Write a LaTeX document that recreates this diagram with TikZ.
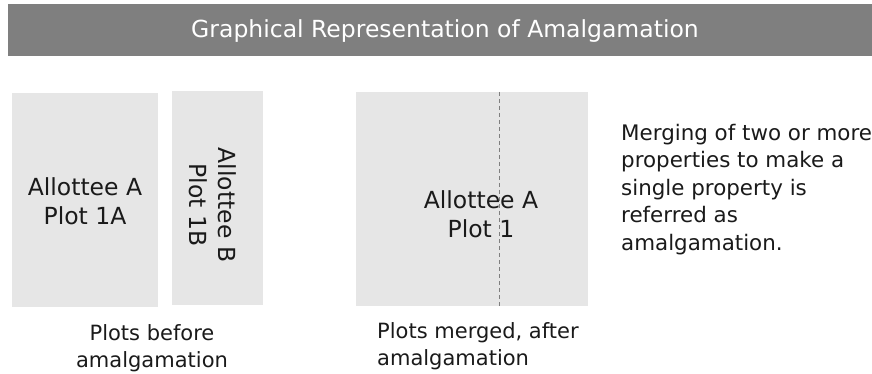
\documentclass[tikz,border=0pt]{standalone}
\usepackage{fontspec}
\setmainfont{DejaVu Sans}
\usetikzlibrary{positioning}
\definecolor{bargray}{HTML}{7F7F7F}
\definecolor{plotgray}{HTML}{E6E6E6}
\definecolor{inkgray}{HTML}{1A1A1A}

\begin{document}
\begin{tikzpicture}[x=1pt,y=-1pt,
    plotbox/.style={fill=plotgray,draw=none},
    plotlabel/.style={font=\fontsize{23.5}{29}\selectfont,align=center,text=inkgray,inner sep=0pt},
    caption/.style={font=\fontsize{21}{27}\selectfont,text=inkgray,inner sep=0pt},
    seam/.style={draw=bargray,dashed,dash pattern=on 4pt off 3pt,line width=0.8pt}]
  \useasboundingbox (0,0) rectangle (872,374);
  % title bar
  \fill[bargray] (8,4) rectangle (872,56);
  \node[font=\fontsize{23.5}{26}\selectfont,text=white,anchor=base,inner sep=0pt] (title) at (445,38)
    {Graphical Representation of Amalgamation};
  % plots before
  \fill[plotbox] (12,93) rectangle (158,307);
  \fill[plotbox] (172,91) rectangle (263,305);
  \node[plotlabel] (plotA) at (85,201) {Allottee A\\Plot 1A};
  \node[plotlabel,rotate=-90] (plotB) at (213,205) {Allottee B\\Plot 1B};
  \node[caption,align=center,anchor=base] (before) at (152,367) {Plots before\\amalgamation};
  % plots after
  \fill[plotbox] (356,92) rectangle (588,306);
  \coordinate (seamtop) at (499,92);
  \coordinate (seambot) at (499,306);
  \draw[seam] (seamtop) -- (seambot);
  \node[plotlabel] (merged) at (481,214) {Allottee A\\Plot 1};
  \node[caption,align=left,anchor=base west] (after) at (377,365) {Plots merged, after\\amalgamation};
  % note
  \node[caption,align=left,anchor=base west,font=\fontsize{21.4}{27.5}\selectfont] (note) at (621,250)
    {Merging of two or more\\properties to make a\\single property is\\referred as\\amalgamation.};
\end{tikzpicture}
\end{document}
